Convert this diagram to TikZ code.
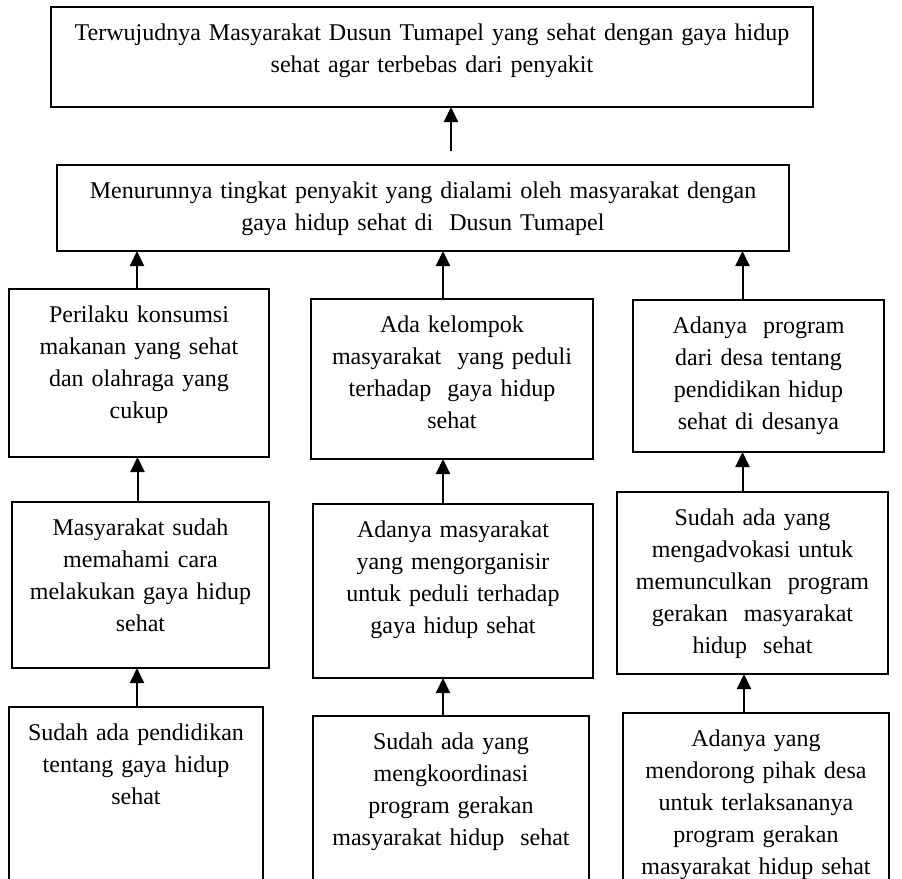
\documentclass[tikz,border=0pt]{standalone}
\usepackage{fontspec}
\setmainfont{Liberation Serif}
\usetikzlibrary{positioning, arrows.meta}

\begin{document}
\begin{tikzpicture}[
    x=1pt, y=-1pt,
    box/.style={rectangle, draw, line width=1pt, anchor=north west, inner sep=0pt, outer sep=0pt, align=center, text height=16.5pt, font=\fontsize{12}{16}\selectfont},
    up/.style={-{Triangle[length=7.5pt, width=7pt]}, line width=1pt}
]
\useasboundingbox (0,0) rectangle (451,439.5);

\node[box, text width=381pt, text depth=33.5pt] (goal) at (25.5,3.5) {Terwujudnya Masyarakat Dusun Tumapel yang sehat dengan gaya hidup\\sehat agar terbebas dari penyakit};
\node[box, text width=366pt, text depth=26.5pt] (result) at (28.5,82.5) {Menurunnya tingkat penyakit yang dialami oleh masyarakat dengan\\gaya hidup sehat di \ Dusun Tumapel};

\node[box, text width=130pt, text depth=67.5pt] (food) at (4.5,144.5) {Perilaku konsumsi\\makanan yang sehat\\dan olahraga yang\\cukup};
\node[box, text width=141pt, text depth=63.5pt] (group) at (155.5,149.5) {Ada kelompok\\masyarakat \ yang peduli\\terhadap \ gaya hidup\\sehat};
\node[box, text width=125.5pt, text depth=59.5pt] (program) at (316.5,150) {Adanya \ program\\dari desa tentang\\pendidikan hidup\\sehat di desanya};

\node[box, text width=128.5pt, text depth=66.5pt] (understand) at (6,251) {Masyarakat sudah\\memahami cara\\melakukan gaya hidup\\sehat};
\node[box, text width=140pt, text depth=70.5pt] (organize) at (156.5,252) {Adanya masyarakat\\yang mengorganisir\\untuk peduli terhadap\\gaya hidup sehat};
\node[box, text width=135.5pt, text depth=74.5pt] (advocate) at (308.5,246) {Sudah ada yang\\mengadvokasi untuk\\memunculkan \ program\\gerakan \ masyarakat\\hidup \ sehat};

\node[box, text width=127pt, text depth=83.5pt] (education) at (4.5,353.5) {Sudah ada pendidikan\\tentang gaya hidup\\sehat};
\node[box, text width=138pt, text depth=83.5pt] (coord) at (156.5,358) {Sudah ada yang\\mengkoordinasi\\program gerakan\\masyarakat hidup \ sehat};
\node[box, text width=133pt, text depth=83.5pt] (push) at (311.5,356.5) {Adanya yang\\mendorong pihak desa\\untuk terlaksananya\\program gerakan\\masyarakat hidup sehat};

\coordinate (start) at (225.5,75.5);
\draw[up] (start) -- (start |- goal.south);

\draw[up] ([xshift=-1pt]food.north) -- ([xshift=-1pt]food.north |- result.south);
\draw[up] ([xshift=-4.5pt]group.north) -- ([xshift=-4.5pt]group.north |- result.south);
\draw[up] ([xshift=-8pt]program.north) -- ([xshift=-8pt]program.north |- result.south);

\draw[up] ([xshift=-1.5pt]understand.north) -- ([xshift=-1.5pt]understand.north |- food.south);
\draw[up] ([xshift=-5pt]organize.north) -- ([xshift=-5pt]organize.north |- group.south);
\draw[up] ([xshift=-5pt]advocate.north) -- ([xshift=-5pt]advocate.north |- program.south);

\draw[up] ([xshift=0.5pt]education.north) -- ([xshift=0.5pt]education.north |- understand.south);
\draw[up] ([xshift=-4pt]coord.north) -- ([xshift=-4pt]coord.north |- organize.south);
\draw[up] ([xshift=-6pt]push.north) -- ([xshift=-6pt]push.north |- advocate.south);

\end{tikzpicture}
\end{document}
